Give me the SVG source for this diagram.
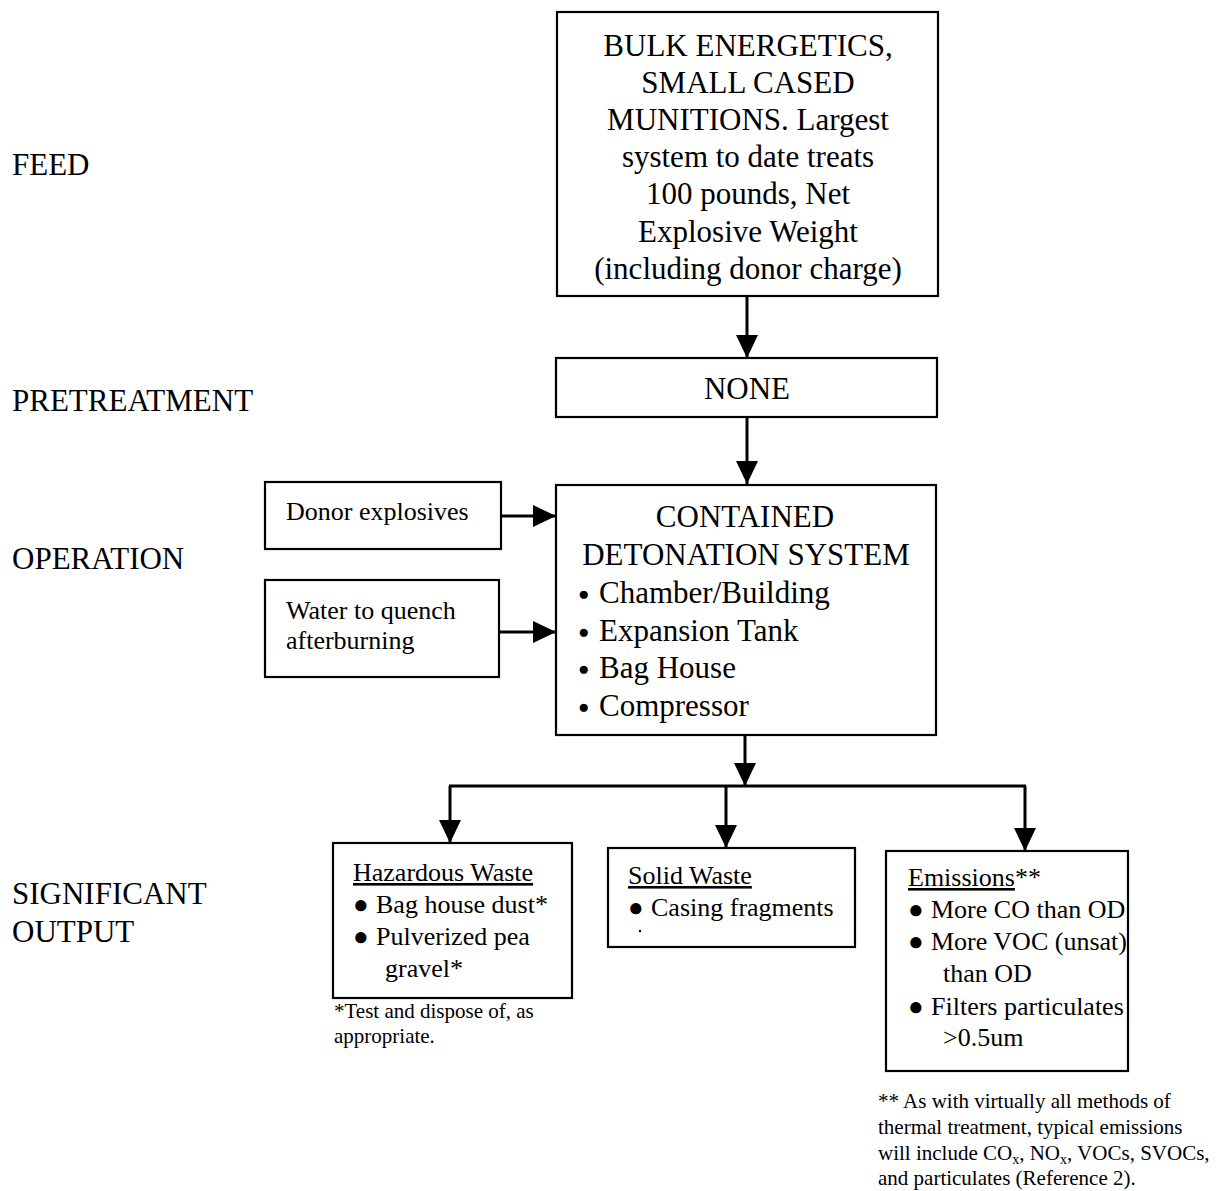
<svg xmlns="http://www.w3.org/2000/svg" width="1222" height="1191" viewBox="0 0 1222 1191">
  <style>
    text { font-family: "Liberation Serif", "Times New Roman", serif; fill: #000; }
    .stage { font-size: 31px; }
    .big { font-size: 31px; }
    .mid { font-size: 26px; }
    .note { font-size: 21px; }
    .dot { font-size: 19px; }
    .box { fill: #fff; stroke: #000; stroke-width: 2.2; }
    .wire { fill: none; stroke: #000; stroke-width: 3; }
    .c { text-anchor: middle; }
  </style>
  <defs>
    <marker id="head" markerUnits="userSpaceOnUse" markerWidth="24" markerHeight="24" refX="23" refY="11" orient="auto">
      <path d="M0,0 L23,11 L0,22 Z" fill="#000"/>
    </marker>
  </defs>

  <rect width="1222" height="1191" fill="#fff"/>

  <!-- stage labels -->
  <g id="stage-labels" class="stage">
    <text x="12" y="175">FEED</text>
    <text x="12" y="411">PRETREATMENT</text>
    <text x="12" y="569">OPERATION</text>
    <text x="12" y="904">SIGNIFICANT</text>
    <text x="12" y="942">OUTPUT</text>
  </g>

  <!-- connectors -->
  <g id="connectors">
    <line class="wire" x1="747" y1="297" x2="747" y2="358" marker-end="url(#head)"/>
    <line class="wire" x1="747" y1="417" x2="747" y2="484" marker-end="url(#head)"/>
    <line class="wire" x1="501" y1="516" x2="556" y2="516" marker-end="url(#head)"/>
    <line class="wire" x1="499" y1="632" x2="556" y2="632" marker-end="url(#head)"/>
    <line class="wire" x1="745" y1="735" x2="745" y2="786" marker-end="url(#head)"/>
    <line class="wire" x1="449" y1="786" x2="1026" y2="786"/>
    <line class="wire" x1="450" y1="786" x2="450" y2="843" marker-end="url(#head)"/>
    <line class="wire" x1="726" y1="786" x2="726" y2="848" marker-end="url(#head)"/>
    <line class="wire" x1="1025" y1="786" x2="1025" y2="851" marker-end="url(#head)"/>
  </g>

  <!-- feed -->
  <g id="feed">
    <rect class="box" x="557" y="12" width="381" height="284"/>
    <text class="big c" x="748" y="56">BULK ENERGETICS,</text>
    <text class="big c" x="748" y="93">SMALL CASED</text>
    <text class="big c" x="748" y="130">MUNITIONS. Largest</text>
    <text class="big c" x="748" y="167">system to date treats</text>
    <text class="big c" x="748" y="204">100 pounds, Net</text>
    <text class="big c" x="748" y="242">Explosive Weight</text>
    <text class="big c" x="748" y="279">(including donor charge)</text>
  </g>

  <!-- pretreatment -->
  <g id="pretreatment">
    <rect class="box" x="556" y="358" width="381" height="59"/>
    <text class="big c" x="747" y="399">NONE</text>
  </g>

  <!-- side inputs -->
  <g id="donor">
    <rect class="box" x="265" y="482" width="236" height="67"/>
    <text class="mid" x="286" y="520">Donor explosives</text>
  </g>
  <g id="water">
    <rect class="box" x="265" y="580" width="234" height="97"/>
    <text class="mid" x="286" y="619">Water to quench</text>
    <text class="mid" x="286" y="649">afterburning</text>
  </g>

  <!-- operation -->
  <g id="operation">
    <rect class="box" x="556" y="485" width="380" height="250"/>
    <text class="big c" x="745" y="527">CONTAINED</text>
    <text class="big c" x="746" y="565">DETONATION SYSTEM</text>
    <text class="dot" x="578" y="600">●</text><text class="big" x="599" y="603">Chamber/Building</text>
    <text class="dot" x="578" y="638">●</text><text class="big" x="599" y="641">Expansion Tank</text>
    <text class="dot" x="578" y="675">●</text><text class="big" x="599" y="678">Bag House</text>
    <text class="dot" x="578" y="713">●</text><text class="big" x="599" y="716">Compressor</text>
  </g>

  <!-- outputs -->
  <g id="hazardous-waste">
    <rect class="box" x="333" y="843" width="239" height="155"/>
    <text class="mid" x="353" y="881" text-decoration="underline">Hazardous Waste</text>
    <text class="mid" x="353" y="913">●</text><text class="mid" x="376" y="913">Bag house dust*</text>
    <text class="mid" x="353" y="945">●</text><text class="mid" x="376" y="945">Pulverized pea</text>
    <text class="mid" x="385" y="977">gravel*</text>
  </g>
  <g id="hazardous-note" class="note">
    <text x="334" y="1018">*Test and dispose of, as</text>
    <text x="334" y="1043">appropriate.</text>
  </g>

  <g id="solid-waste">
    <rect class="box" x="608" y="848" width="247" height="99"/>
    <text class="mid" x="628" y="884" text-decoration="underline">Solid Waste</text>
    <text class="mid" x="628" y="916">●</text><text class="mid" x="651" y="916">Casing fragments</text>
    <circle cx="640" cy="931" r="1.2" fill="#000"/>
  </g>

  <g id="emissions">
    <rect class="box" x="886" y="851" width="242" height="220"/>
    <text class="mid" x="908" y="886"><tspan text-decoration="underline">Emissions</tspan>**</text>
    <text class="mid" x="908" y="918">●</text><text class="mid" x="931" y="918">More CO than OD</text>
    <text class="mid" x="908" y="950">●</text><text class="mid" x="931" y="950">More VOC (unsat)</text>
    <text class="mid" x="943" y="982">than OD</text>
    <text class="mid" x="908" y="1015">●</text><text class="mid" x="931" y="1015">Filters particulates</text>
    <text class="mid" x="943" y="1046">&gt;0.5um</text>
  </g>
  <g id="emissions-note" class="note">
    <text x="878" y="1108">** As with virtually all methods of</text>
    <text x="878" y="1134">thermal treatment, typical emissions</text>
    <text x="878" y="1160">will include CO<tspan font-size="14" dy="4">x</tspan><tspan dy="-4">, NO</tspan><tspan font-size="14" dy="4">x</tspan><tspan dy="-4">, VOCs, SVOCs,</tspan></text>
    <text x="878" y="1185">and particulates (Reference 2).</text>
  </g>
</svg>
